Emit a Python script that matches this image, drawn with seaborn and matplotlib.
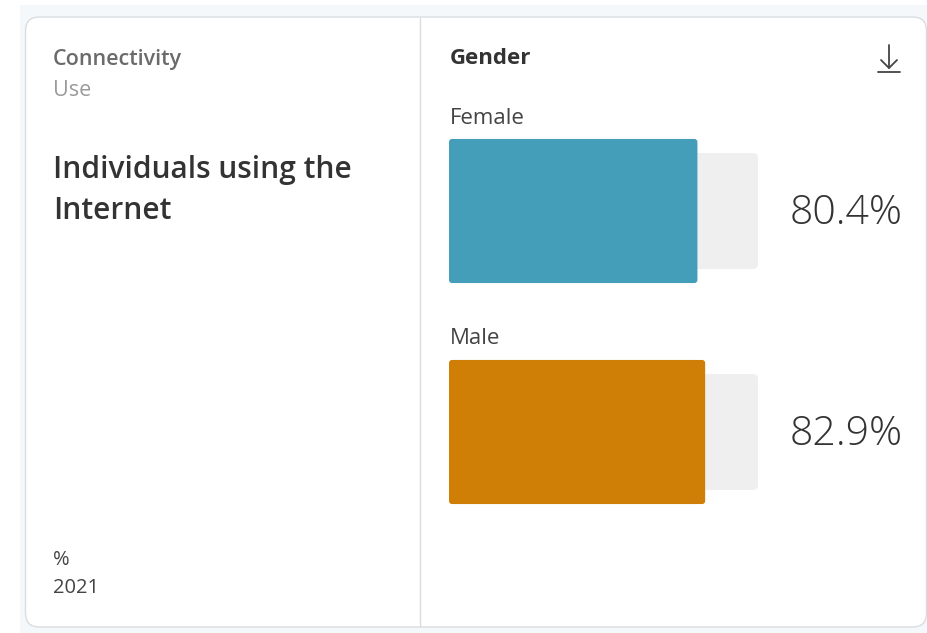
import matplotlib
matplotlib.use("Agg")
import matplotlib.pyplot as plt
import seaborn as sns
import pandas as pd
from matplotlib.patches import FancyBboxPatch, Rectangle
from matplotlib.lines import Line2D

# data
genders = ["Female", "Male"]
values = [80.4, 82.9]
bar_colors = ["#449db9", "#d07f06"]
full_scale = [100, 100]

W, H = 928, 633

sns.set_theme(style="white")
plt.rcParams["font.family"] = ["Open Sans", "DejaVu Sans"]


def px(x, y):
    # pixel (from top-left) -> figure fraction
    return x / W, 1 - y / H


fig = plt.figure(figsize=(W / 100, H / 100), dpi=100)
fig.patch.set_facecolor("white")

# page background and card
fig.add_artist(Rectangle(px(20, 633), 908 / W, 628 / H, transform=fig.transFigure,
                         facecolor="#f4f8fb", edgecolor="none", zorder=0))
fig.add_artist(FancyBboxPatch(px(25.5, 627), 901 / W, 610 / H, transform=fig.transFigure,
                              boxstyle="round,pad=0,rounding_size=0.015",
                              mutation_aspect=W / H,
                              facecolor="white", edgecolor="#d9dde0", linewidth=1.0, zorder=1))
fig.add_artist(Line2D([420 / W, 420 / W], [1 - 18 / H, 1 - 626 / H], transform=fig.transFigure,
                      color="#dcdcdc", linewidth=1.0, zorder=2))

# left panel text
fig.text(*px(53, 59), "Connectivity", fontsize=15.5, fontweight="semibold",
         color="#6b6b6b", va="center", ha="left", zorder=3)
fig.text(*px(53, 91), "Use", fontsize=15.5, color="#9a9a9a", va="center", ha="left", zorder=3)
fig.text(*px(53, 170), "Individuals using the", fontsize=21.5, fontweight="semibold",
         color="#333333", va="center", ha="left", zorder=3)
fig.text(*px(53, 211), "Internet", fontsize=21.5, fontweight="semibold",
         color="#333333", va="center", ha="left", zorder=3)
fig.text(*px(53, 560), "%", fontsize=14.5, color="#444444", va="center", ha="left", zorder=3)
fig.text(*px(53, 588), "2021", fontsize=14.5, color="#444444", va="center", ha="left", zorder=3)

# right panel header
fig.text(*px(450, 59), "Gender", fontsize=16, fontweight="bold",
         color="#333333", va="center", ha="left", zorder=3)

# download icon
icon_kw = dict(transform=fig.transFigure, color="#444444", linewidth=1.3, zorder=3)
fig.add_artist(Line2D([889 / W, 889 / W], [1 - 45 / H, 1 - 68 / H], **icon_kw))
fig.add_artist(Line2D([881 / W, 889 / W, 897 / W], [1 - 60 / H, 1 - 68 / H, 1 - 60 / H], **icon_kw))
fig.add_artist(Line2D([878 / W, 900 / W], [1 - 72 / H, 1 - 72 / H], **icon_kw))

# bars axes: x 0..100 spans pixels 449..758, categories 221 px apart
ax = fig.add_axes([449 / W, (633 - 542.5) / H, 309 / W, 442 / H])
ax.set_zorder(3)

df = pd.DataFrame({"gender": genders, "value": values, "full": full_scale})

sns.barplot(data=df, x="full", y="gender", color="#efefef", width=0.525,
            orient="h", ax=ax, saturation=1)
n_bg = len(ax.patches)
sns.barplot(data=df, x="value", y="gender", hue="gender", palette=bar_colors,
            width=0.652, orient="h", ax=ax, saturation=1, legend=False)

# round the bar corners
patches = list(ax.patches)
for i, p in enumerate(patches):
    x0, y0 = p.get_x(), p.get_y()
    w, h = p.get_width(), p.get_height()
    fc = p.get_facecolor()
    p.remove()
    r = 1.6 if i < n_bg else 1.0
    ax.add_patch(FancyBboxPatch((x0, y0), w, h,
                                boxstyle=f"round,pad=0,rounding_size={r}",
                                mutation_aspect=(309 / 221) / 100,
                                facecolor=fc, edgecolor="none", zorder=2 if i >= n_bg else 1))

ax.set_xlim(0, 100)
ax.set_ylim(1.5, -0.5)
ax.axis("off")

for i, (g, v) in enumerate(zip(genders, values)):
    ax.annotate(g, xy=(0, i), xycoords="data", xytext=(0.5, 93), textcoords="offset pixels",
                fontsize=16, color="#444444", va="center", ha="left")
    ax.annotate(f"{v}%", xy=(100, i), xycoords="data", xytext=(145, -2.5), textcoords="offset pixels",
                fontsize=29.5, fontweight="light", color="#333333", va="center", ha="right")

fig.savefig("out.png", dpi=100)
